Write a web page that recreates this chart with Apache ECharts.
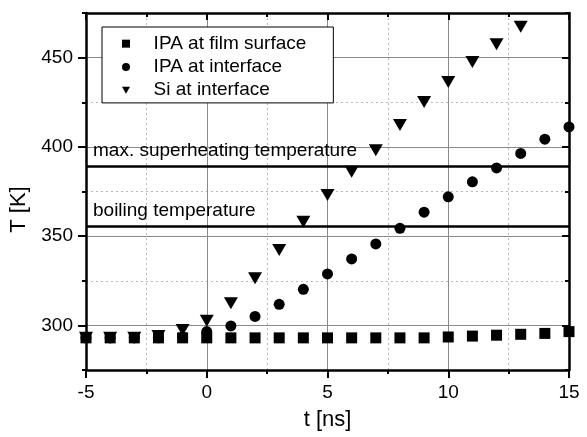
<!DOCTYPE html>
<html>
<head>
<meta charset="utf-8">
<script src="https://cdn.jsdelivr.net/npm/echarts@6/dist/echarts.min.js"></script>
<style>html,body{margin:0;padding:0;background:#fff;}#c{width:587px;height:437px;}</style>
</head>
<body>
<div id="c"></div>
<script>
const time = [-5,-4,-3,-2,-1,0,1,2,3,4,5,6,7,8,9,10,11,12,13,14,15];
const ipaSurface = [293,293,293,293,293,293,293,293,293,293,293,293,293,293,293,293.5,294,294.5,295,295.5,296.5];
const ipaInterface = [293,293,293,293,293.5,296.5,299.7,305,311.8,320.2,328.8,337.2,345.6,354.4,363.4,372,380.4,388.2,396.3,404.3,411.2];
const siInterface = [293,293,293,294,297.4,302.6,312.4,326.4,342.2,358.1,373,386,398.1,412.2,425.2,436.4,447.6,457.5,467.3,null,null];
const seriesNames = ['IPA at film surface','IPA at interface','Si at interface'];
const superheatT = 389.2;
const boilingT = 355.3;
const refLabels = ['max. superheating temperature','boiling temperature'];
const yMajor = [300,350,400,450];

const font = 'Liberation Sans, Arial, sans-serif';
const pairs = v => time.map((t,i) => [t, v[i]]);
const black = '#000';
const frame = {onZero:false,lineStyle:{color:black,width:2.5}};
const downTriangle = 'path://M0,0L20,0L10,17Z';

const chart = echarts.init(document.getElementById('c'));
chart.setOption({
  animation:false,
  backgroundColor:'#fff',
  textStyle:{fontFamily:font},
  grid:{left:86,right:18,top:13,bottom:67},
  legend:{
    orient:'vertical', left:102, top:27,
    padding:[5,27,1,20], itemWidth:8, itemHeight:8, itemGap:0,
    backgroundColor:'#fff', borderColor:black, borderWidth:1,
    textStyle:{fontSize:19,color:black,lineHeight:23.3,padding:[0,0,0,18.6],fontFamily:font},
    data:[
      {name:seriesNames[0],icon:'rect'},
      {name:seriesNames[1],icon:'circle'},
      {name:seriesNames[2],icon:downTriangle}
    ]
  },
  xAxis:[
    {type:'value',min:-5,max:15,interval:5,position:'bottom',
     axisLine:frame,
     axisTick:{length:8,lineStyle:{color:black,width:2}},
     minorTick:{show:true,splitNumber:2,length:4,lineStyle:{color:black,width:2}},
     splitLine:{show:true,lineStyle:{color:'#8a8a8a',width:1}},
     minorSplitLine:{show:true,lineStyle:{color:'#b8b8b8',width:1,type:[2,3]}},
     axisLabel:{fontSize:19,color:black,margin:13,fontFamily:font},
     name:'t [ns]',nameLocation:'middle',nameGap:39,
     nameTextStyle:{fontSize:22,color:black,fontFamily:font}},
    {type:'value',min:-5,max:15,interval:5,position:'top',
     axisLine:frame,
     axisTick:{inside:true,length:7,lineStyle:{color:black,width:2}},
     minorTick:{show:true,splitNumber:2,length:4,lineStyle:{color:black,width:2}},
     splitLine:{show:false},axisLabel:{show:false}}
  ],
  yAxis:[
    {type:'value',min:275,max:475,splitNumber:4,position:'left',
     axisLine:frame,
     axisTick:{length:8,customValues:yMajor,lineStyle:{color:black,width:2}},
     axisLabel:{fontSize:19,color:black,margin:13,customValues:yMajor,fontFamily:font},
     splitLine:{show:true,lineStyle:{color:'#8a8a8a',width:1}},
     name:'T [K]',nameLocation:'middle',nameGap:43,
     nameTextStyle:{fontSize:22,color:black,fontFamily:font,padding:[0,36,0,0]}},
    {type:'value',min:275,max:475,interval:50,position:'left',
     axisLine:{show:false,onZero:false},
     axisTick:{length:4,lineStyle:{color:black,width:2}},
     axisLabel:{show:false},
     splitLine:{show:true,lineStyle:{color:'#b8b8b8',width:1,type:[2,3]}}},
    {type:'value',min:275,max:475,splitNumber:4,position:'right',
     axisLine:frame,
     axisTick:{inside:true,length:7,customValues:yMajor,lineStyle:{color:black,width:2}},
     axisLabel:{show:false},splitLine:{show:false}},
    {type:'value',min:275,max:475,interval:50,position:'right',
     axisLine:{show:false,onZero:false},
     axisTick:{inside:true,length:4,lineStyle:{color:black,width:2}},
     axisLabel:{show:false},splitLine:{show:false}}
  ],
  series:[
    {name:seriesNames[2],type:'scatter',symbol:'triangle',symbolRotate:180,symbolSize:[14,12],
     itemStyle:{color:black,opacity:1},data:pairs(siInterface),
     markLine:{silent:true,symbol:'none',
       lineStyle:{color:black,width:2.5,type:'solid'},
       label:{position:'insideStartTop',fontSize:19,color:black,fontFamily:font,distance:[7,6]},
       data:[{yAxis:superheatT,label:{formatter:refLabels[0]}},{yAxis:boilingT,label:{formatter:refLabels[1]}}]}},
    {name:seriesNames[1],type:'scatter',symbol:'circle',symbolSize:11,
     itemStyle:{color:black,opacity:1},data:pairs(ipaInterface)},
    {name:seriesNames[0],type:'scatter',symbol:'rect',symbolSize:11,
     itemStyle:{color:black,opacity:1},data:pairs(ipaSurface)}
  ]
});
</script>
</body>
</html>
